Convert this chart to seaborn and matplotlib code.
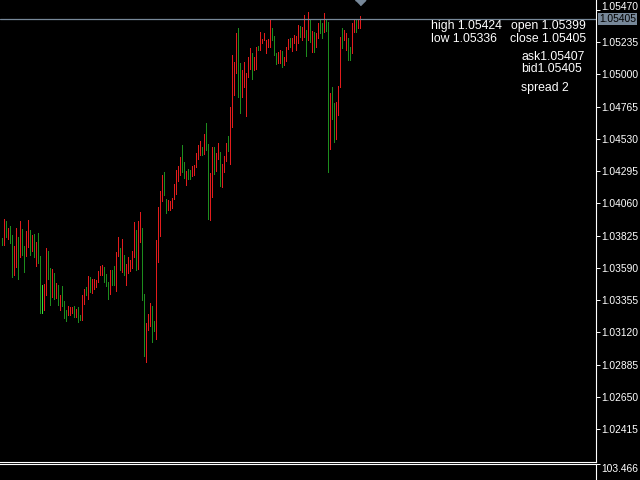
import matplotlib
matplotlib.use("Agg")
import matplotlib.pyplot as plt
from matplotlib.transforms import ScaledTranslation
import seaborn as sns
import pandas as pd


# bar highs / lows, oldest first
highs = [
    1.03808, 1.03946, 1.03932, 1.03881, 1.03895, 1.03830, 1.03750, 1.03881, 1.03815, 1.03932,
    1.03874, 1.03750, 1.03859, 1.03939, 1.03866, 1.03830, 1.03837, 1.03779, 1.03844, 1.03677,
    1.03465, 1.03472, 1.03735, 1.03713, 1.03589, 1.03582, 1.03553, 1.03480, 1.03465, 1.03392,
    1.03458, 1.03349, 1.03283, 1.03312, 1.03305, 1.03305, 1.03312, 1.03290, 1.03305, 1.03247,
    1.03392, 1.03436, 1.03451, 1.03531, 1.03524, 1.03509, 1.03509, 1.03502, 1.03567, 1.03604,
    1.03611, 1.03597, 1.03545, 1.03487, 1.03575, 1.03575, 1.03604, 1.03706, 1.03815, 1.03735,
    1.03801, 1.03684, 1.03618, 1.03669, 1.03648, 1.03713, 1.03925, 1.03866, 1.03932, 1.03997,
    1.03881, 1.03400, 1.03188, 1.03254, 1.03334, 1.03312, 1.03203, 1.03793, 1.04034, 1.04151,
    1.04267, 1.04289, 1.04092, 1.04085, 1.04078, 1.04100, 1.04202, 1.04304, 1.04333, 1.04398,
    1.04486, 1.04362, 1.04296, 1.04311, 1.04304, 1.04333, 1.04340, 1.04428, 1.04486, 1.04515,
    1.04471, 1.04566, 1.04646, 1.04493, 1.04282, 1.04471, 1.04471, 1.04428, 1.04500, 1.04435,
    1.04347, 1.04406, 1.04500, 1.04552, 1.04763, 1.05142, 1.05091, 1.05302, 1.05339, 1.05084,
    1.05033, 1.05091, 1.05011, 1.05127, 1.05193, 1.05157, 1.05127, 1.05200, 1.05208, 1.05310,
    1.05259, 1.05302, 1.05251, 1.05259, 1.05404, 1.05339, 1.05280, 1.05157, 1.05164, 1.05178,
    1.05171, 1.05127, 1.05200, 1.05259, 1.05266, 1.05266, 1.05288, 1.05280, 1.05361, 1.05353,
    1.05346, 1.05434, 1.05324, 1.05455, 1.05404, 1.05317, 1.05310, 1.05302, 1.05375, 1.05404,
    1.05375, 1.05448, 1.05397, 1.05383, 1.04865, 1.04909, 1.04792, 1.04799, 1.04916, 1.05273,
    1.05339, 1.05324, 1.05302, 1.05266, 1.05200, 1.05375, 1.05404, 1.05404, 1.05404, 1.05424,
]
lows = [
    1.03757, 1.03757, 1.03815, 1.03801, 1.03771, 1.03524, 1.03538, 1.03597, 1.03509, 1.03669,
    1.03684, 1.03560, 1.03677, 1.03742, 1.03684, 1.03713, 1.03669, 1.03604, 1.03626, 1.03261,
    1.03261, 1.03283, 1.03392, 1.03509, 1.03319, 1.03378, 1.03363, 1.03371, 1.03319, 1.03283,
    1.03312, 1.03225, 1.03203, 1.03247, 1.03247, 1.03261, 1.03232, 1.03232, 1.03196, 1.03210,
    1.03210, 1.03327, 1.03392, 1.03363, 1.03414, 1.03407, 1.03436, 1.03451, 1.03487, 1.03538,
    1.03538, 1.03487, 1.03458, 1.03363, 1.03400, 1.03465, 1.03465, 1.03422, 1.03677, 1.03575,
    1.03560, 1.03538, 1.03465, 1.03553, 1.03567, 1.03589, 1.03669, 1.03575, 1.03582, 1.03779,
    1.03356, 1.02948, 1.02904, 1.03137, 1.03166, 1.03050, 1.03130, 1.03072, 1.03633, 1.03822,
    1.04078, 1.04121, 1.03990, 1.04012, 1.04012, 1.04027, 1.04092, 1.04129, 1.04223, 1.04267,
    1.04289, 1.04245, 1.04194, 1.04238, 1.04238, 1.04260, 1.04267, 1.04325, 1.04384, 1.04413,
    1.04413, 1.04420, 1.04449, 1.03946, 1.03939, 1.04107, 1.04274, 1.04296, 1.04384, 1.04187,
    1.04180, 1.04289, 1.04369, 1.04442, 1.04347, 1.04617, 1.04850, 1.05011, 1.04836, 1.04719,
    1.04836, 1.04909, 1.04697, 1.04982, 1.05040, 1.04967, 1.05033, 1.05040, 1.05178, 1.05178,
    1.05229, 1.05251, 1.05157, 1.05200, 1.05200, 1.05251, 1.05142, 1.05076, 1.05084, 1.05084,
    1.05055, 1.05069, 1.05098, 1.05186, 1.05200, 1.05171, 1.05229, 1.05178, 1.05229, 1.05273,
    1.05251, 1.05273, 1.05135, 1.05251, 1.05237, 1.05164, 1.05164, 1.05200, 1.05266, 1.05302,
    1.05266, 1.05310, 1.05317, 1.04289, 1.04457, 1.04675, 1.04508, 1.04530, 1.04705, 1.04909,
    1.05193, 1.05251, 1.05178, 1.05106, 1.05106, 1.05157, 1.05310, 1.05310, 1.05339, 1.05336,
]
# u = bull bar (red), d = bear bar (green), l = highlighted bar
direction = list(
    "dududduudu" "dduudududd" "luuddududu" "ddduuududd" "uududuuuuu"
    "udddudduud" "uduuuuuduu" "dduuudduuu" "udduuuuuuu" "ddudduuuuu"
    "dudduuduud" "uuuduuuudd" "uuuuuduudu" "uuuuuddduu" "duuuduuuud"
    "uudududuud" "duddudduuu" "duudduuduu"
)

price_ticks = [1.02415, 1.02650, 1.02885, 1.03120, 1.03355, 1.03590, 1.03825,
               1.04060, 1.04295, 1.04530, 1.04765, 1.05000, 1.05235, 1.05470]
bid = 1.05405
sub_max = 103.466

info_rows = [
    ("high 1.05424", 431, 29.5), ("open 1.05399", 511, 29.5),
    ("low 1.05336", 431, 41.5), ("close 1.05405", 510, 41.5),
    ("ask1.05407", 521, 60), ("bid1.05405", 521, 72.5),
    ("spread 2", 521, 90.5),
]

colors = {"u": "#e21c1c", "d": "#1d8c1d", "l": "#38e038"}
line_col = "#778899"

df = pd.DataFrame({"high": highs, "low": lows, "dir": direction})
df["x"] = 1.5 + 2 * df.index          # one bar every 2 px
df["color"] = df["dir"].map(colors)

sns.set_theme(style="dark", rc={"axes.facecolor": "black", "figure.facecolor": "black"})
plt.rcParams["font.family"] = ["Liberation Sans", "DejaVu Sans"]

W, H = 640, 480
px_per_unit = 1 / 0.0000729
top_price = 1.05470 + 10 / px_per_unit

fig = plt.figure(figsize=(6.4, 4.8), dpi=100, facecolor="black")
ax = fig.add_axes([0, 18.5 / H, 595.5 / W, 461.5 / H])
ax.set_facecolor("black")
ax.set_xlim(0, 595.5)
ax.set_ylim(top_price - 461.5 / px_per_unit, top_price)

ax.vlines(df["x"], df["low"], df["high"], colors=df["color"], linewidth=0.72, antialiased=False)
ax.axhline(bid, color=line_col, linewidth=0.9)
ax.plot([359.5], [top_price], marker=[(-1, 0), (1, 0), (0, -1)], markersize=7.5,
        color=line_col, clip_on=False)

for s in ["left", "top"]:
    ax.spines[s].set_visible(False)
for s in ["right", "bottom"]:
    ax.spines[s].set_color("white")
    ax.spines[s].set_linewidth(0.8)

ax.set_xticks([])
ax.yaxis.tick_right()
ax.set_yticks(price_ticks)
ax.set_yticklabels([f"{t:.5f}" for t in price_ticks])
ax.tick_params(axis="y", direction="out", length=3, width=0.7, colors="white",
               labelsize=7.4, pad=1.5)
ax.grid(False)

# top scale label sits a little higher, clear of the price tag
top_lab = ax.get_yticklabels()[-1]
top_lab.set_transform(top_lab.get_transform() + ScaledTranslation(0, 3.5 / 100, fig.dpi_scale_trans))

# bottom indicator window
ax2 = fig.add_axes([0, 0, 595.5 / W, 16.5 / H])
ax2.set_facecolor("black")
ax2.set_ylim(0, sub_max)
ax2.set_xticks([])
ax2.yaxis.tick_right()
ax2.set_yticks([sub_max])
ax2.set_yticklabels([f"{sub_max:.3f}"])
ax2.tick_params(axis="y", direction="out", length=3, width=0.7, colors="white",
                labelsize=7.4, pad=1.5)
for lab in ax2.get_yticklabels():
    lab.set_va("top")
for s in ["left", "bottom"]:
    ax2.spines[s].set_visible(False)
for s in ["right", "top"]:
    ax2.spines[s].set_color("white")
    ax2.spines[s].set_linewidth(0.8)
ax2.grid(False)

# current price tag on the scale
fig.text(617.5 / W, 1 - 19 / H, f"{bid:.5f}", ha="center", va="center",
         fontsize=7.4, color="black",
         bbox=dict(boxstyle="square,pad=0.1", facecolor=line_col, edgecolor="none"))

for txt, x, y in info_rows:
    fig.text(x / W, 1 - y / H, txt, ha="left", va="baseline", color="white", fontsize=8.8)

fig.savefig("out.png", dpi=100, facecolor="black")
